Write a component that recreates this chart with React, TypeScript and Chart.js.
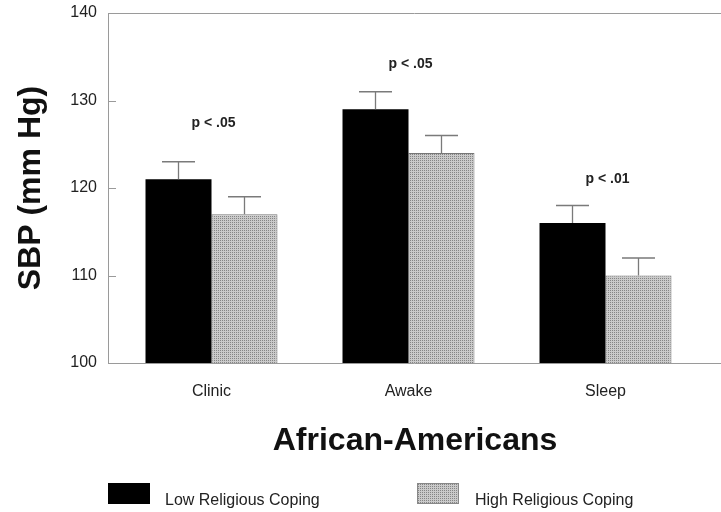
import React, { useEffect, useRef } from "react";
import { Chart, registerables } from "chart.js";
Chart.register(...registerables);

const categories = ["Clinic", "Awake", "Sleep"];
const seriesNames = ["Low Religious Coping", "High Religious Coping"];
const lowCoping = [121, 129, 116];
const highCoping = [117, 124, 110];
const lowErrUpper = [123, 131, 118];
const highErrUpper = [119, 126, 112];
const pLabels = ["p < .05", "p < .05", "p < .01"];
const pLabelY = [127.4, 134.1, 121.0];
const yMin = 100;
const yMax = 140;
const yStep = 10;
const yTitle = "SBP (mm Hg)";
const xTitle = "African-Americans";

const FONT = "'Liberation Sans', Arial, Helvetica, sans-serif";

export default function App() {
  const ref = useRef<HTMLCanvasElement | null>(null);

  useEffect(() => {
    const canvas = ref.current!;
    const ctx0 = canvas.getContext("2d")!;
    const pc = document.createElement("canvas");
    pc.width = 2;
    pc.height = 2;
    const pg = pc.getContext("2d")!;
    pg.fillStyle = "#cacaca";
    pg.fillRect(0, 0, 2, 2);
    pg.fillStyle = "#858585";
    pg.fillRect(0, 0, 1, 1);
    const pattern = ctx0.createPattern(pc, "repeat")!;

    const errs = [lowErrUpper, highErrUpper];

    const overlay = {
      id: "overlay",
      afterDatasetsDraw(chart: any) {
        const ctx = chart.ctx;
        const ys = chart.scales.y;
        ctx.save();
        ctx.strokeStyle = "#7a7a7a";
        ctx.lineWidth = 1.3;
        for (let d = 0; d < 2; d++) {
          const meta = chart.getDatasetMeta(d);
          meta.data.forEach((el: any, j: number) => {
            const top = el.y;
            const ey = ys.getPixelForValue(errs[d][j]);
            const half = el.width / 4;
            ctx.beginPath();
            ctx.moveTo(el.x, top);
            ctx.lineTo(el.x, ey);
            ctx.moveTo(el.x - half, ey);
            ctx.lineTo(el.x + half, ey);
            ctx.stroke();
          });
        }
        ctx.restore();
      },
      afterDraw(chart: any) {
        const ctx = chart.ctx;
        const ys = chart.scales.y;
        const xs = chart.scales.x;
        const area = chart.chartArea;
        const axisX = area.left - 5;
        const top = ys.getPixelForValue(yMax);
        const bottom = ys.getPixelForValue(yMin);
        ctx.save();
        ctx.strokeStyle = "#9a9a9a";
        ctx.lineWidth = 1;
        ctx.beginPath();
        ctx.moveTo(axisX + 0.5, top);
        ctx.lineTo(axisX + 0.5, bottom);
        ctx.moveTo(axisX, Math.round(top) + 0.5);
        ctx.lineTo(chart.width, Math.round(top) + 0.5);
        ctx.moveTo(axisX, Math.round(bottom) + 0.5);
        ctx.lineTo(chart.width, Math.round(bottom) + 0.5);
        for (let v = yMin; v <= yMax; v += yStep) {
          const py = Math.round(ys.getPixelForValue(v)) + 0.5;
          ctx.moveTo(axisX, py);
          ctx.lineTo(axisX + 8, py);
        }
        ctx.stroke();

        ctx.fillStyle = "#222";
        ctx.font = "bold 14px " + FONT;
        ctx.textAlign = "center";
        ctx.textBaseline = "middle";
        pLabels.forEach((t, i) => {
          ctx.fillText(t, xs.getPixelForValue(i) + 2, ys.getPixelForValue(pLabelY[i]));
        });

        ctx.fillStyle = "#111";
        ctx.font = "bold 32px " + FONT;
        ctx.fillText(xTitle, 415, 441);
        ctx.save();
        ctx.translate(31, (top + bottom) / 2);
        ctx.rotate(-Math.PI / 2);
        ctx.fillText(yTitle, 0, 0);
        ctx.restore();

        ctx.fillStyle = "#000";
        ctx.fillRect(108, 483, 42, 21);
        ctx.fillStyle = pattern;
        ctx.fillRect(417, 483, 42, 21);
        ctx.strokeStyle = "#888";
        ctx.strokeRect(417.5, 483.5, 41, 20);
        ctx.fillStyle = "#222";
        ctx.font = "16px " + FONT;
        ctx.textAlign = "left";
        ctx.textBaseline = "alphabetic";
        ctx.fillText(seriesNames[0], 165, 505);
        ctx.fillText(seriesNames[1], 475, 505);
        ctx.restore();
      },
    };

    const chart = new Chart(canvas, {
      type: "bar",
      data: {
        labels: categories,
        datasets: [
          {
            label: seriesNames[0],
            data: lowCoping,
            backgroundColor: "#000",
            borderWidth: 0,
            barPercentage: 1,
            categoryPercentage: 0.67,
          },
          {
            label: seriesNames[1],
            data: highCoping,
            backgroundColor: pattern as any,
            borderColor: "#777",
            borderWidth: 1,
            barPercentage: 1,
            categoryPercentage: 0.67,
          },
        ],
      },
      options: {
        animation: false,
        responsive: false,
        maintainAspectRatio: false,
        layout: { padding: { top: 13, right: 17, left: 0, bottom: 0 } },
        plugins: { legend: { display: false }, tooltip: { enabled: false }, title: { display: false } },
        scales: {
          x: {
            type: "category",
            grid: { display: false, drawTicks: false },
            border: { display: false },
            ticks: { font: { family: FONT, size: 16 }, color: "#222", padding: 19 },
            afterFit(s: any) {
              s.height = 149;
              s.paddingLeft = 0;
              s.paddingRight = 0;
            },
          },
          y: {
            min: yMin,
            max: yMax,
            grid: { display: false, drawTicks: false },
            border: { display: false },
            ticks: { stepSize: yStep, font: { family: FONT, size: 16 }, color: "#222", padding: 16 },
            afterFit(s: any) {
              s.width = 113;
              s.paddingTop = 0;
              s.paddingBottom = 0;
            },
          },
        },
      },
      plugins: [overlay],
    });
    return () => chart.destroy();
  }, []);

  return (
    <div style={{ position: "fixed", left: 0, top: 0, width: 721, height: 512, background: "#fff" }}>
      <canvas ref={ref} width={721} height={512} />
    </div>
  );
}
